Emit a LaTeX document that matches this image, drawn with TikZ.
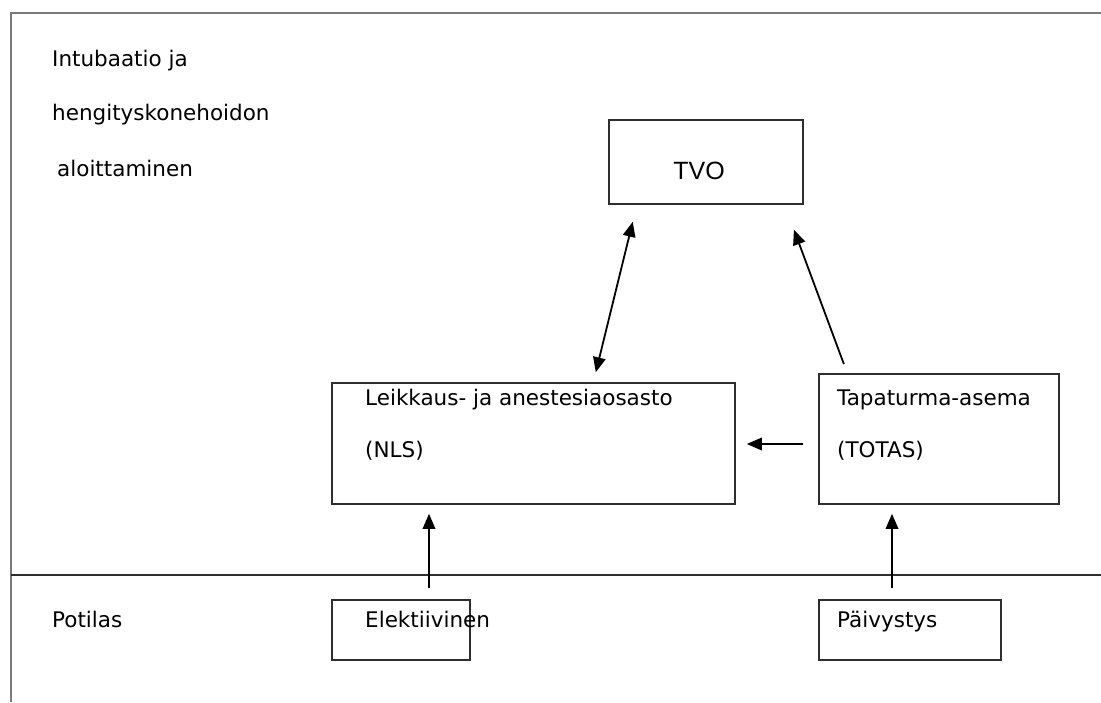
\documentclass[tikz,border=0pt]{standalone}
\usepackage{fontspec}
\setmainfont{DejaVu Sans}
\newfontfamily\arialfont{Liberation Sans}
\usetikzlibrary{arrows.meta}
\definecolor{frameline}{HTML}{7A7A7A}
\definecolor{boxline}{HTML}{2E2E2E}
\tikzset{
  x=1pt, y=-1pt,
  lbl/.style={anchor=base west, inner sep=0pt, font=\fontsize{21.5}{24}\selectfont, text=black},
  boxnode/.style={draw=boxline, line width=1.8pt, inner sep=0pt, anchor=north west},
  tip/.tip={Triangle[length=15pt,width=12.5pt]},
  arr/.style={draw=black, line width=1.8pt, -tip},
  dblarr/.style={draw=black, line width=1.8pt, tip-tip},
}
\begin{document}
\begin{tikzpicture}
\useasboundingbox (0,0) rectangle (1101,702);

% outer frame and level separator
\draw[frameline, line width=2pt] (11,702) -- (11,13) -- (1101,13);
\draw[boxline, line width=1.6pt] (11,575) -- (1101,575);

% level labels
\node[lbl] (l1) at (52,66) {Intubaatio ja};
\node[lbl] (l2) at (52,120) {hengityskonehoidon};
\node[lbl] (l3) at (57,176) {aloittaminen};
\node[lbl] (pot) at (52,627) {Potilas};

% boxes
\node[boxnode, minimum width=194pt, minimum height=84pt] (tvo) at (608,119) {};
\node[font=\arialfont\fontsize{25}{28}\selectfont, inner sep=0pt, anchor=base] (tvot) at (699,179) {TVO};

\node[boxnode, minimum width=403pt, minimum height=121pt] (leik) at (331,382) {};
\node[lbl] (leik1) at (365,405) {Leikkaus- ja anestesiaosasto};
\node[lbl] (leik2) at (365,457) {(NLS)};

\node[boxnode, minimum width=240pt, minimum height=130pt] (tapa) at (818,373) {};
\node[lbl] (tapa1) at (837,405) {Tapaturma-asema};
\node[lbl] (tapa2) at (837,457) {(TOTAS)};

\node[boxnode, minimum width=138pt, minimum height=60pt] (elek) at (331,599) {};
\node[lbl] (elekt) at (365,627) {Elektiivinen};

\node[boxnode, minimum width=182pt, minimum height=60pt] (paiv) at (818,599) {};
\node[lbl] (paivt) at (837,627) {Päivystys};

% connector guides
\coordinate (ex) at (429,0);
\coordinate (px) at (892,0);
\coordinate (hy) at (0,444);

% connectors
\draw[arr, shorten <=11pt, shorten >=9pt] (elek.north -| ex) -- (leik.south -| ex);
\draw[arr, shorten <=11pt, shorten >=9pt] (paiv.north -| px) -- (tapa.south -| px);
\draw[arr, shorten <=15pt, shorten >=11pt] (tapa.west |- hy) -- (leik.east |- hy);
\draw[dblarr, shorten <=10pt, shorten >=17.5pt] ([xshift=60pt]leik.north) -- ([xshift=-69pt]tvo.south);
\draw[arr, shorten <=9.6pt, shorten >=26.6pt] ([xshift=-91.7pt]tapa.north) -- ([xshift=78.8pt]tvo.south);
\end{tikzpicture}
\end{document}
